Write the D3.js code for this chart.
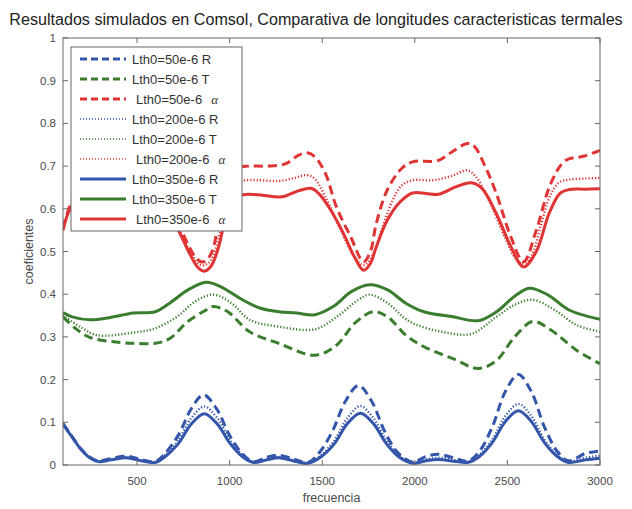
<!DOCTYPE html>
<html>
<head>
<meta charset="utf-8">
<script src="https://cdn.jsdelivr.net/npm/d3@7"></script>
<style>
  body { margin: 0; background: #fff; }
  svg { display: block; font-family: "Liberation Sans", Arial, sans-serif; }
</style>
</head>
<body>
<svg id="chart" width="632" height="509"></svg>
<script>
// frequency / coefficient pairs
var R50 = [[100,0.097],[150,0.066],[200,0.036],[250,0.017],[290,0.01],[360,0.015],[441,0.021],[520,0.013],[598,0.008],[653,0.028],[723,0.07],[793,0.132],[859,0.164],[929,0.132],[999,0.07],[1069,0.026],[1128,0.008],[1200,0.018],[1265,0.023],[1340,0.015],[1422,0.006],[1486,0.03],[1556,0.08],[1626,0.15],[1696,0.186],[1766,0.15],[1836,0.08],[1906,0.03],[1990,0.007],[2060,0.02],[2127,0.025],[2210,0.017],[2285,0.009],[2349,0.032],[2419,0.09],[2489,0.172],[2559,0.212],[2629,0.172],[2699,0.09],[2769,0.032],[2830,0.01],[2920,0.027],[3000,0.033]];
var T50 = [[100,0.347],[167,0.32],[245,0.299],[363,0.289],[480,0.285],[598,0.285],[676,0.296],[774,0.336],[873,0.363],[912,0.371],[990,0.359],[1108,0.312],[1265,0.285],[1461,0.257],[1578,0.281],[1676,0.332],[1775,0.359],[1853,0.347],[1951,0.304],[2049,0.277],[2206,0.249],[2343,0.226],[2441,0.245],[2539,0.3],[2637,0.336],[2735,0.316],[2873,0.269],[3000,0.237]];
var A50 = [[100,0.555],[140,0.61],[200,0.655],[300,0.68],[450,0.69],[550,0.7],[630,0.67],[700,0.6],[760,0.53],[810,0.49],[845,0.476],[870,0.478],[905,0.5],[945,0.58],[990,0.66],[1040,0.695],[1105,0.7],[1200,0.7],[1300,0.705],[1370,0.725],[1419,0.731],[1460,0.722],[1517,0.683],[1576,0.605],[1654,0.534],[1723,0.476],[1760,0.5],[1792,0.566],[1851,0.644],[1930,0.695],[1988,0.71],[2126,0.713],[2200,0.733],[2283,0.753],[2320,0.747],[2381,0.698],[2440,0.636],[2519,0.534],[2587,0.476],[2656,0.55],[2735,0.66],[2813,0.713],[2910,0.723],[3000,0.737]];

var R200 = [[100,0.096],[150,0.065],[200,0.035],[250,0.016],[290,0.009],[360,0.013],[441,0.019],[520,0.011],[598,0.007],[653,0.024],[723,0.058],[793,0.11],[863,0.137],[933,0.11],[1003,0.058],[1073,0.022],[1128,0.007],[1200,0.014],[1265,0.019],[1340,0.012],[1422,0.005],[1496,0.024],[1566,0.058],[1636,0.11],[1706,0.138],[1776,0.11],[1846,0.058],[1916,0.022],[1990,0.005],[2060,0.013],[2127,0.017],[2210,0.012],[2285,0.007],[2349,0.024],[2419,0.06],[2489,0.115],[2559,0.143],[2629,0.115],[2699,0.06],[2769,0.024],[2830,0.008],[2920,0.017],[3000,0.022]];
var T200 = [[100,0.351],[206,0.32],[284,0.304],[480,0.31],[598,0.32],[715,0.347],[814,0.383],[912,0.399],[1010,0.379],[1108,0.34],[1265,0.324],[1461,0.318],[1578,0.347],[1696,0.387],[1755,0.399],[1853,0.379],[1971,0.336],[2147,0.312],[2304,0.307],[2441,0.347],[2539,0.375],[2637,0.387],[2755,0.363],[2873,0.328],[3000,0.312]];
var A200 = [[100,0.55],[140,0.605],[200,0.64],[300,0.655],[450,0.66],[550,0.665],[630,0.64],[700,0.58],[750,0.53],[800,0.49],[835,0.47],[863,0.468],[900,0.48],[945,0.54],[985,0.61],[1020,0.65],[1066,0.665],[1150,0.667],[1265,0.665],[1350,0.672],[1419,0.679],[1460,0.67],[1520,0.625],[1600,0.55],[1670,0.49],[1723,0.468],[1770,0.49],[1820,0.55],[1880,0.62],[1930,0.655],[1990,0.667],[2100,0.667],[2200,0.677],[2283,0.69],[2330,0.675],[2400,0.62],[2480,0.54],[2550,0.48],[2587,0.472],[2630,0.49],[2680,0.56],[2730,0.63],[2780,0.662],[2830,0.668],[2920,0.671],[3000,0.672]];

var R350 = [[100,0.096],[150,0.065],[200,0.035],[250,0.015],[290,0.008],[360,0.012],[441,0.017],[520,0.01],[598,0.006],[653,0.02],[723,0.05],[793,0.096],[863,0.12],[933,0.096],[1003,0.05],[1073,0.018],[1128,0.006],[1200,0.012],[1265,0.017],[1340,0.01],[1422,0.004],[1496,0.02],[1566,0.05],[1636,0.097],[1706,0.121],[1776,0.097],[1846,0.05],[1916,0.018],[1990,0.004],[2060,0.01],[2127,0.013],[2210,0.009],[2285,0.006],[2349,0.02],[2419,0.053],[2489,0.102],[2559,0.127],[2629,0.102],[2699,0.053],[2769,0.02],[2830,0.006],[2920,0.012],[3000,0.016]];
var T350 = [[100,0.357],[150,0.347],[246,0.34],[350,0.345],[480,0.356],[598,0.359],[676,0.379],[775,0.41],[873,0.428],[950,0.418],[1069,0.387],[1167,0.367],[1265,0.359],[1360,0.356],[1461,0.352],[1559,0.371],[1657,0.406],[1755,0.422],[1853,0.41],[1951,0.379],[2049,0.359],[2206,0.347],[2343,0.338],[2441,0.359],[2539,0.395],[2618,0.414],[2716,0.399],[2833,0.363],[3000,0.341]];
var A350 = [[100,0.55],[140,0.6],[200,0.625],[300,0.635],[450,0.638],[550,0.64],[630,0.62],[700,0.57],[740,0.535],[790,0.49],[830,0.462],[863,0.454],[900,0.466],[940,0.51],[975,0.575],[1007,0.614],[1066,0.632],[1150,0.633],[1282,0.628],[1370,0.642],[1439,0.648],[1480,0.636],[1537,0.603],[1615,0.542],[1674,0.487],[1723,0.456],[1760,0.472],[1792,0.511],[1851,0.573],[1920,0.616],[1988,0.637],[2060,0.636],[2126,0.634],[2224,0.652],[2303,0.661],[2362,0.648],[2440,0.589],[2519,0.511],[2587,0.464],[2656,0.5],[2725,0.589],[2784,0.636],[2833,0.645],[2920,0.646],[3000,0.647]];

var xTicks = [500, 1000, 1500, 2000, 2500, 3000];
var yTicks = [0, 0.1, 0.2, 0.3, 0.4, 0.5, 0.6, 0.7, 0.8, 0.9, 1];

var BLUE = '#3355aa', GREEN = '#3a7d2e', RED = '#e03434';

var series = [
  {name: 'Lth0=50e-6', suffix: 'R', data: R50, color: BLUE, style: 'dash'},
  {name: 'Lth0=50e-6', suffix: 'T', data: T50, color: GREEN, style: 'dash'},
  {name: 'Lth0=50e-6', suffix: 'α', data: A50, color: RED, style: 'dash'},
  {name: 'Lth0=200e-6', suffix: 'R', data: R200, color: BLUE, style: 'dot'},
  {name: 'Lth0=200e-6', suffix: 'T', data: T200, color: GREEN, style: 'dot'},
  {name: 'Lth0=200e-6', suffix: 'α', data: A200, color: RED, style: 'dot'},
  {name: 'Lth0=350e-6', suffix: 'R', data: R350, color: BLUE, style: 'solid'},
  {name: 'Lth0=350e-6', suffix: 'T', data: T350, color: GREEN, style: 'solid'},
  {name: 'Lth0=350e-6', suffix: 'α', data: A350, color: RED, style: 'solid'}
];

var box = {left: 63, right: 600, top: 38, bottom: 465};
var svg = d3.select('#chart');

var x = d3.scaleLinear().domain([100, 3000]).range([box.left, box.right]);
var y = d3.scaleLinear().domain([0, 1]).range([box.bottom, box.top]);

svg.append('clipPath').attr('id', 'clip')
  .append('rect').attr('x', box.left).attr('y', box.top)
  .attr('width', box.right - box.left).attr('height', box.bottom - box.top);

function dashFor(style, legend){
  if (style === 'dash') return legend ? '7,4' : '9,5';
  if (style === 'dot') return legend ? '1,2' : '1.2,2';
  return null;
}
function widthFor(style, legend){
  if (style === 'dot') return legend ? 1.3 : 2.4;
  return 3;
}

// curves
var line = d3.line()
  .x(function(d){ return x(d[0]); })
  .y(function(d){ return y(d[1]); })
  .curve(d3.curveCatmullRom.alpha(0.5));

svg.append('g').attr('clip-path', 'url(#clip)')
  .selectAll('path').data(series).enter().append('path')
  .attr('d', function(s){ return line(s.data); })
  .attr('fill', 'none')
  .attr('stroke', function(s){ return s.color; })
  .attr('stroke-width', function(s){ return widthFor(s.style, false); })
  .attr('stroke-dasharray', function(s){ return dashFor(s.style, false); })
  .attr('stroke-linejoin', 'round');

// axes box with inward ticks on all sides
var axisColor = '#666', labelColor = '#4a4a4a', tl = 5;
var ax = svg.append('g');
ax.append('rect').attr('x', box.left).attr('y', box.top)
  .attr('width', box.right - box.left).attr('height', box.bottom - box.top)
  .attr('fill', 'none').attr('stroke', axisColor).attr('stroke-width', 1);

xTicks.forEach(function(t){
  ax.append('line').attr('x1', x(t)).attr('x2', x(t)).attr('y1', box.bottom).attr('y2', box.bottom - tl).attr('stroke', axisColor);
  ax.append('line').attr('x1', x(t)).attr('x2', x(t)).attr('y1', box.top).attr('y2', box.top + tl).attr('stroke', axisColor);
  ax.append('text').attr('x', x(t)).attr('y', box.bottom + 20)
    .attr('text-anchor', 'middle').attr('font-size', 11.5).attr('fill', labelColor).text(t);
});
yTicks.forEach(function(t){
  ax.append('line').attr('x1', box.left).attr('x2', box.left + tl).attr('y1', y(t)).attr('y2', y(t)).attr('stroke', axisColor);
  ax.append('line').attr('x1', box.right).attr('x2', box.right - tl).attr('y1', y(t)).attr('y2', y(t)).attr('stroke', axisColor);
  ax.append('text').attr('x', box.left - 7).attr('y', y(t) + 4)
    .attr('text-anchor', 'end').attr('font-size', 11.5).attr('fill', labelColor).text(d3.format('~g')(t));
});

// labels
ax.append('text').attr('x', (box.left + box.right) / 2).attr('y', 502)
  .attr('text-anchor', 'middle').attr('font-size', 12.5).attr('fill', labelColor).text('frecuencia');
ax.append('text').attr('transform', 'translate(33,' + ((box.top + box.bottom) / 2) + ') rotate(-90)')
  .attr('text-anchor', 'middle').attr('font-size', 12.5).attr('fill', labelColor).text('coeficientes');

var title = svg.append('text').attr('x', 316).attr('y', 25)
  .attr('text-anchor', 'middle').attr('font-size', 14).attr('fill', '#222')
  .text('Resultados simulados en Comsol, Comparativa de longitudes caracteristicas termales');
var tw = title.node().getComputedTextLength();
title.attr('font-size', 14 * 614 / tw);

// legend
var lg = svg.append('g');
lg.append('rect').attr('x', 71).attr('y', 47).attr('width', 171).attr('height', 184)
  .attr('fill', '#fff').attr('stroke', axisColor).attr('stroke-width', 1);

series.forEach(function(s, i){
  var cy = 59 + i * 20;
  lg.append('line').attr('x1', 80).attr('x2', 126).attr('y1', cy).attr('y2', cy)
    .attr('stroke', s.color)
    .attr('stroke-width', widthFor(s.style, true))
    .attr('stroke-dasharray', dashFor(s.style, true));
  if (s.suffix === 'α') {
    var t = lg.append('text').attr('x', 136).attr('y', cy + 4.5)
      .attr('font-size', 13).attr('fill', '#333').text(s.name);
    var w = t.node().getComputedTextLength();
    lg.append('text').attr('x', 136 + w + 9).attr('y', cy + 4.5)
      .attr('font-size', 13).attr('font-style', 'italic')
      .attr('font-family', '"Liberation Serif", serif').attr('fill', '#333').text('α');
  } else {
    lg.append('text').attr('x', 132).attr('y', cy + 4.5)
      .attr('font-size', 13).attr('fill', '#333').text(s.name + ' ' + s.suffix);
  }
});
</script>
</body>
</html>
